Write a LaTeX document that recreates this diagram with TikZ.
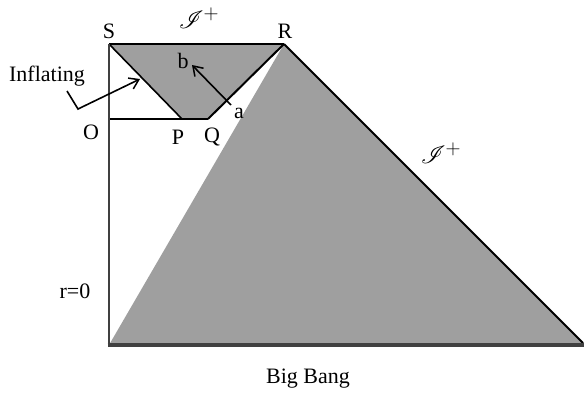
\documentclass[tikz,border=0pt]{standalone}
\usepackage{fontspec}
\setmainfont{Liberation Serif}
\usepackage{mathrsfs}
\usetikzlibrary{arrows.meta}
\definecolor{gfill}{HTML}{9F9F9F}
\definecolor{dkline}{HTML}{404040}
\tikzset{
  lbl/.style={inner sep=0pt, font=\fontsize{22}{26}\selectfont},
  scri/.style={inner sep=0pt, font=\fontsize{30}{34}\selectfont},
  barb/.style={-{Straight Barb[length=9pt,width=12pt,line width=1.5pt]}, line width=1.6pt},
}
\begin{document}
\begin{tikzpicture}[x=1pt,y=-1pt]
\useasboundingbox (0,0) rectangle (584,397);
\coordinate (S) at (109,44);
\coordinate (R) at (284,44);
\coordinate (O) at (109,119);
\coordinate (P) at (182,119);
\coordinate (Q) at (208,119);
\coordinate (BL) at (109,345);
\coordinate (BR) at (584,345);
\coordinate (BRt) at (583,343);
% fills
\fill[gfill] (R) -- (BL) -- (BRt) -- cycle;
\fill[gfill] (S) -- (R) -- (Q) -- (P) -- cycle;
% lines
\draw[line width=2.2pt] (S) -- (R);
\draw[line width=1.6pt] (S) -- (P);
\draw[line width=2pt] (R) -- (Q);
\draw[line width=2.8pt] (O) -- (Q);
\draw[line width=2pt] (R) -- (BRt);
\draw[line width=2.6pt, dkline] (S) -- (BL);
\draw[line width=4pt, dkline] ([xshift=-1.3pt]BL) -- (BR);
% labels
\node[lbl] (lS) at (109,31) {S};
\node[lbl] (lR) at (285,31) {R};
\node[lbl] (lO) at (91,132) {O};
\node[lbl] (lP) at (178,137) {P};
\node[lbl] (lQ) at (212,137) {Q};
\node[lbl] (la) at (239,113) {a};
\node[lbl] (lb) at (183,61) {b};
\node[lbl] (lr) at (75,291) {r=0};
\node[lbl] (lbb) at (308,379) {Big Bang};
\node[lbl] (linf) at (47,76) {Inflating};
\node[scri] (scritop) at (199,18) {$\mathscr{I}^{+}$};
\node[scri] (scriright) at (441,153) {$\mathscr{I}^{+}$};
% arrows
\coordinate (ta) at (231,105);
\coordinate (tb) at (192,65);
\draw[barb] (ta) -- (tb);
\coordinate (i1) at (67,91);
\coordinate (i2) at (78,109);
\coordinate (i3) at (140,79);
\draw[barb] (i1) -- (i2) -- (i3);
\end{tikzpicture}
\end{document}
